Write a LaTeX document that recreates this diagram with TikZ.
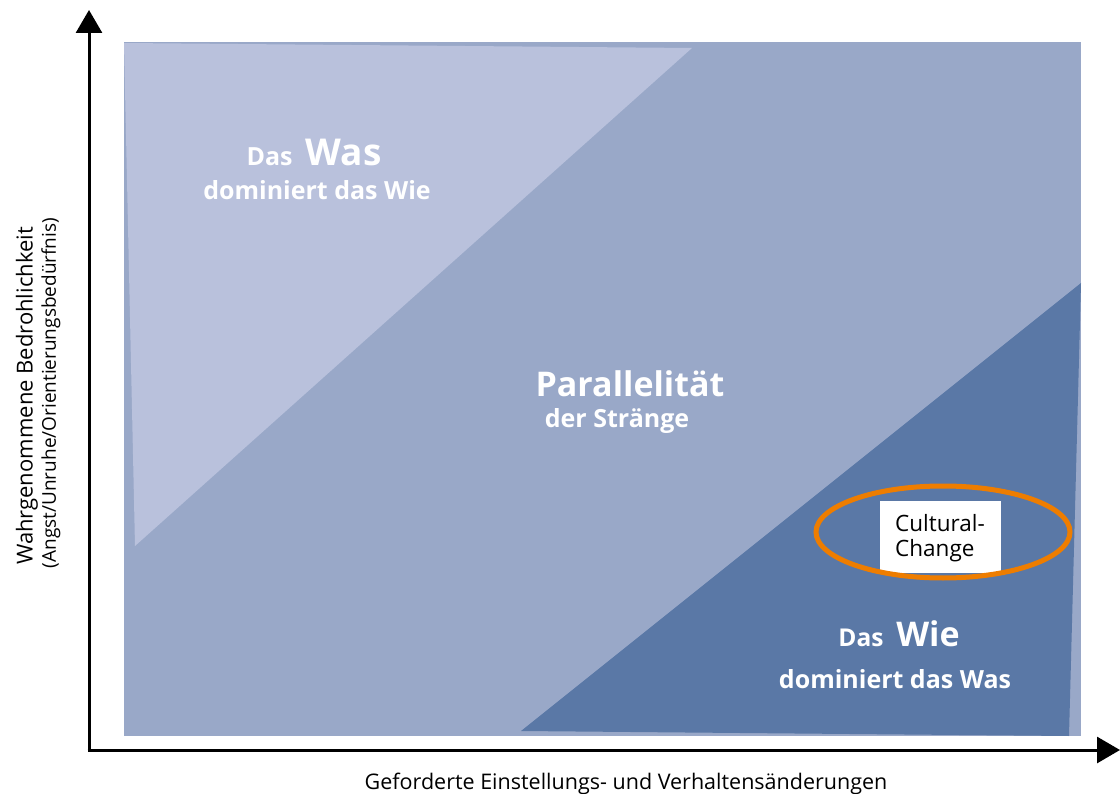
\documentclass[tikz,border=0pt]{standalone}
\usepackage{fontspec}
\setmainfont{Open Sans}
\usetikzlibrary{arrows.meta}
\definecolor{lightblue}{HTML}{B9C1DC}
\definecolor{midblue}{HTML}{99A8C8}
\definecolor{darkblue}{HTML}{5A78A6}
\definecolor{ccorange}{HTML}{EE7D00}
\tikzset{
  axis/.style={line width=3pt,-{Triangle[length=23pt,width=26pt]}},
  wlabel/.style={text=white,font=\bfseries,inner sep=0pt,anchor=base},
  axlabel/.style={text=black,inner sep=0pt,align=center}
}
\begin{document}
\begin{tikzpicture}[x=1pt,y=-1pt]
\useasboundingbox (0,0) rectangle (1120,794);
% regions
\fill[midblue] (124,42) rectangle (1081,736);
\fill[lightblue] (124,43) -- (692,48) -- (135,546) -- cycle;
\fill[darkblue] (521,731) -- (1081,283) -- (1069,736) -- cycle;
% axes
\coordinate (origin) at (89,750);
\coordinate (ytip) at (89,10);
\coordinate (xtip) at (1120,750);
\draw[axis] (89,751.5) -- (ytip);
\draw[axis] (87.5,750) -- (xtip);
% labels
\node[wlabel] (was1) at (314,166) {\fontsize{25}{28}\selectfont Das\ \ \fontsize{37}{40}\selectfont Was};
\node[wlabel] (was2) at (317,200) {\fontsize{25}{28}\selectfont dominiert das Wie};
\node[wlabel] (par1) at (630,397) {\fontsize{34}{38}\selectfont Parallelität};
\node[wlabel] (par2) at (617,428) {\fontsize{25}{28}\selectfont der Stränge};
\node[wlabel] (wie1) at (899,646) {\fontsize{24.5}{28}\selectfont Das\ \ \fontsize{34}{40}\selectfont Wie};
\node[wlabel] (wie2) at (895,688) {\fontsize{25}{28}\selectfont dominiert das Was};
% cultural change
\node[fill=white,minimum width=121pt,minimum height=72pt,inner sep=0pt] (cc) at (940.5,537) {};
\node[anchor=north west,inner sep=0pt,align=left,font=\fontsize{22.5}{25}\selectfont] (cctext) at (895,514) {Cultural-\\Change};
\draw[ccorange,line width=5pt] (943,532) ellipse [x radius=127pt,y radius=46pt];
% axis labels
\node[axlabel,rotate=90,font=\fontsize{22}{26}\selectfont] (ylab1) at (27,396) {Wahrgenommene Bedrohlichkeit};
\node[axlabel,rotate=90,font=\fontsize{19}{22}\selectfont] (ylab2) at (51,393) {(Angst/Unruhe/Orientierungsbedürfnis)};
\node[axlabel,anchor=base,font=\fontsize{21.5}{24}\selectfont] (xlab) at (626,789) {Geforderte Einstellungs- und Verhaltensänderungen};
\end{tikzpicture}
\end{document}
